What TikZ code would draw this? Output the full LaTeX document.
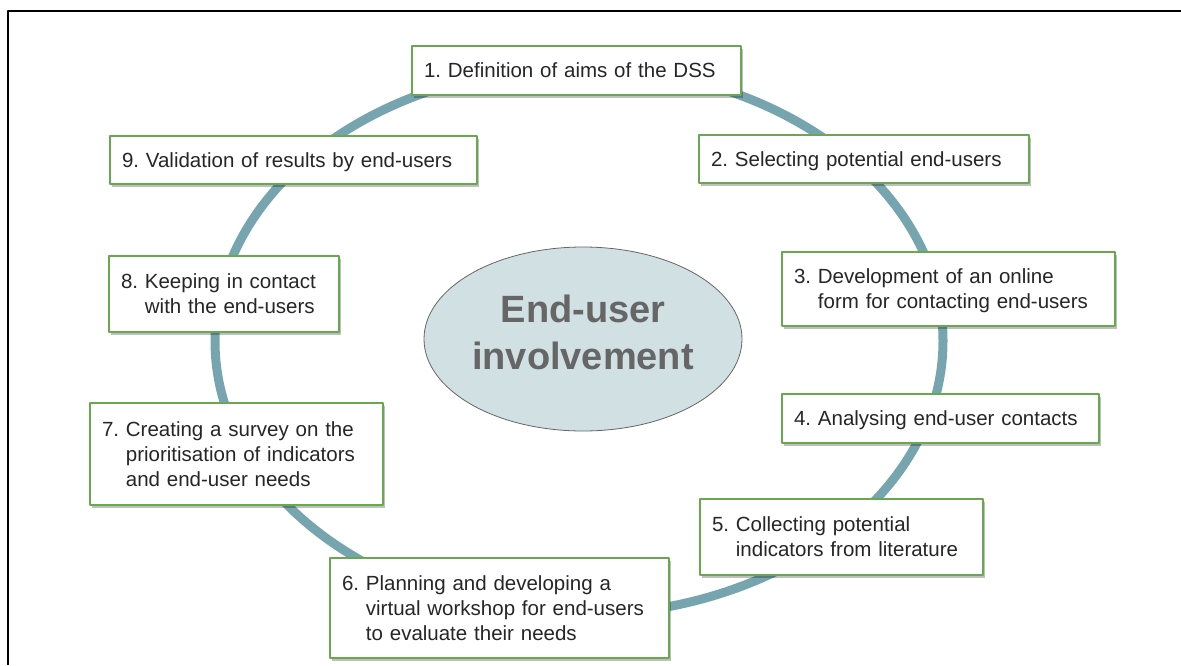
\documentclass[tikz,border=0pt]{standalone}
\usepackage{fontspec}
\setmainfont{Liberation Sans}
\usetikzlibrary{shapes.geometric,shadows}
\definecolor{ringteal}{HTML}{76A5AF}
\definecolor{hubfill}{HTML}{D0E0E3}
\definecolor{hubtext}{HTML}{666666}
\definecolor{boxgreen}{HTML}{6AA84F}
\newcommand\steptext[2]{\rule{0pt}{22pt}#1~\begin{tabular}[t]{@{}l@{}}#2\end{tabular}}
\tikzset{
  stepbox/.style={draw=boxgreen, line width=1.3pt, fill=white, align=left,
    inner xsep=12pt, inner ysep=0pt, text=black!85,
    font=\fontsize{20.5}{25}\selectfont,
    drop shadow={shadow xshift=1.5pt, shadow yshift=-2.5pt, opacity=.25, fill=black}},
  hub/.style={ellipse, draw=black!60, line width=.8pt, fill=hubfill, align=center,
    inner sep=0pt, minimum width=318pt, minimum height=184pt, text=hubtext,
    font=\fontsize{38}{47}\selectfont\bfseries}
}
\begin{document}
\begin{tikzpicture}[x=1pt, y=-1pt, line join=round, line cap=round]
  \useasboundingbox (0,0) rectangle (1181,665);
  % frame
  \draw[line width=2.8pt, line cap=butt] (8,665) -- (8,11) -- (1181,11);
  % ring behind the steps
  \draw[ringteal, line width=9pt] (579,341) ellipse [x radius=364pt, y radius=274pt];
  \node[hub] (hub) at (583,339) {End-user\\involvement\rule[-14pt]{0pt}{14pt}};
  \foreach \n/\x/\y/\w/\h/\t [evaluate=\w as \tw using \w-24] in {
    1/576.5/70.5/329/49/{\steptext{1.}{Definition of aims of the DSS}},
    2/864/159/330/48/{\steptext{2.}{Selecting potential end-users}},
    3/948.5/289/333/74/{\steptext{3.}{Development of an online\\form for contacting end-users}},
    4/940.5/418.5/317/49/{\steptext{4.}{Analysing end-user contacts}},
    5/841.5/537/283/76/{\steptext{5.}{Collecting potential\\indicators from literature}},
    6/499.5/608/339/100/{\steptext{6.}{Planning and developing a\\virtual workshop for end-users\\to evaluate their needs}},
    7/236.5/454/293/102/{\steptext{7.}{Creating a survey on the\\prioritisation of indicators\\and end-user needs}},
    8/224/294/230/76/{\steptext{8.}{Keeping in contact\\with the end-users}},
    9/293.5/160/367/48/{\steptext{9.}{Validation of results by end-users}}}
    \node[stepbox, text width=\tw pt, minimum height=\h pt] (s\n) at (\x,\y) {\t};
\end{tikzpicture}
\end{document}
